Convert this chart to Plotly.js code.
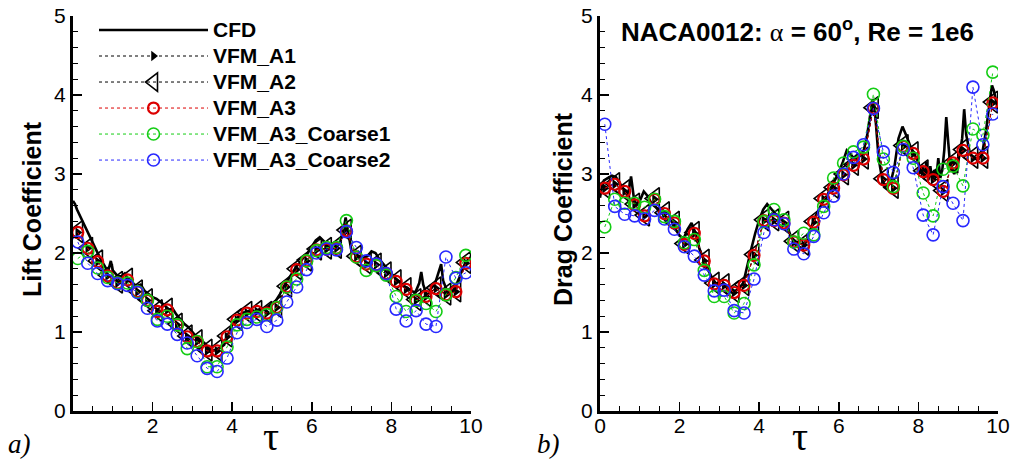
<!DOCTYPE html>
<html>
<head>
<meta charset="utf-8">
<script src="https://cdn.plot.ly/plotly-3.0.1.min.js"></script>
<style>html,body{margin:0;padding:0;background:#fff;}#chart{width:1013px;height:463px;}</style>
</head>
<body>
<div id="chart"></div>
<script>
// ---- data ----
const cfdLiftTau = [0.0,0.05,0.1,0.2,0.3,0.4,0.5,0.6,0.7,0.8,0.88,0.95,1.0,1.1,1.2,1.3,1.4,1.5,1.6,1.7,1.8,1.9,2.0,2.1,2.2,2.3,2.4,2.5,2.6,2.7,2.8,2.9,3.0,3.1,3.2,3.3,3.4,3.5,3.6,3.7,3.8,3.9,4.0,4.1,4.2,4.3,4.4,4.5,4.6,4.7,4.8,4.9,5.0,5.1,5.2,5.3,5.4,5.5,5.6,5.7,5.8,5.9,6.0,6.1,6.2,6.3,6.4,6.5,6.6,6.7,6.8,6.85,6.9,7.0,7.1,7.2,7.3,7.4,7.5,7.6,7.7,7.8,7.9,8.0,8.1,8.2,8.3,8.4,8.5,8.6,8.7,8.75,8.8,8.9,9.0,9.1,9.2,9.25,9.3,9.4,9.5,9.6,9.7,9.8,9.9,10.0];
const cfdLift = [2.66,2.62,2.55,2.44,2.33,2.22,2.13,2.02,1.92,1.82,1.76,1.90,1.78,1.72,1.70,1.74,1.66,1.62,1.58,1.60,1.52,1.48,1.44,1.42,1.38,1.34,1.28,1.30,1.22,1.16,1.10,1.06,1.00,0.94,0.90,0.86,0.80,0.76,0.78,0.80,0.84,0.96,1.10,1.16,1.22,1.25,1.24,1.28,1.24,1.30,1.28,1.32,1.35,1.40,1.48,1.58,1.66,1.74,1.82,1.88,1.95,2.00,2.08,2.16,2.20,2.15,2.08,2.05,2.08,2.12,2.30,2.45,2.30,2.02,1.98,1.96,1.94,1.96,2.02,2.00,1.92,1.86,1.80,1.74,1.68,1.64,1.58,1.56,1.52,1.50,1.62,1.76,1.60,1.45,1.55,1.62,1.78,1.86,1.65,1.52,1.50,1.56,1.68,1.82,1.90,1.95];

const cfdDragTau = [0.0,0.05,0.1,0.2,0.3,0.4,0.5,0.6,0.7,0.78,0.85,0.9,1.0,1.1,1.2,1.3,1.4,1.5,1.6,1.7,1.8,1.9,2.0,2.1,2.2,2.3,2.4,2.5,2.6,2.7,2.8,2.9,3.0,3.1,3.2,3.3,3.4,3.5,3.6,3.7,3.8,3.9,4.0,4.1,4.2,4.3,4.4,4.5,4.6,4.7,4.8,4.9,5.0,5.1,5.2,5.3,5.4,5.5,5.6,5.7,5.8,5.9,6.0,6.1,6.2,6.3,6.4,6.5,6.6,6.7,6.8,6.85,6.9,7.0,7.1,7.2,7.3,7.4,7.5,7.6,7.7,7.8,7.9,8.0,8.05,8.1,8.15,8.2,8.25,8.3,8.35,8.4,8.45,8.5,8.55,8.6,8.65,8.7,8.75,8.8,8.9,9.0,9.1,9.15,9.2,9.3,9.4,9.5,9.6,9.7,9.8,9.85,9.9,10.0];
const cfdDrag = [2.70,2.85,2.92,2.95,2.98,2.96,2.88,2.80,2.72,2.97,2.70,2.62,2.66,2.78,2.72,2.62,2.58,2.52,2.48,2.45,2.40,2.30,2.22,2.18,2.30,2.38,2.25,2.05,1.92,1.80,1.70,1.62,1.58,1.62,1.55,1.50,1.52,1.56,1.62,1.85,2.05,2.25,2.42,2.55,2.62,2.56,2.50,2.46,2.40,2.35,2.20,2.15,2.08,2.05,2.18,2.32,2.45,2.55,2.65,2.72,2.82,2.90,3.02,3.15,3.30,3.25,3.18,3.22,3.25,3.45,3.80,3.95,3.85,3.20,2.90,2.85,2.88,3.10,3.45,3.60,3.48,3.35,3.25,3.15,3.00,3.10,2.95,3.15,2.92,3.10,2.90,3.05,2.95,3.20,2.95,3.05,3.30,3.72,3.40,3.10,3.00,3.15,3.45,3.82,3.50,3.25,3.20,3.18,3.25,3.55,3.95,4.12,4.05,3.80];

const vfmTau = [0.12,0.37,0.62,0.87,1.12,1.37,1.62,1.87,2.12,2.37,2.62,2.87,3.12,3.37,3.62,3.87,4.12,4.37,4.62,4.87,5.12,5.37,5.62,5.87,6.12,6.37,6.62,6.87,7.12,7.37,7.62,7.87,8.12,8.37,8.62,8.87,9.12,9.37,9.62,9.87];

const liftA1 = [2.26,2.06,1.89,1.71,1.62,1.66,1.51,1.40,1.26,1.28,1.09,0.94,0.88,0.76,0.76,0.94,1.15,1.24,1.26,1.24,1.31,1.57,1.79,1.90,2.04,2.05,2.06,2.28,1.95,1.86,1.85,1.74,1.64,1.54,1.40,1.45,1.55,1.47,1.51,1.87];
const liftA2 = [2.27,2.06,1.90,1.72,1.63,1.67,1.52,1.41,1.27,1.29,1.10,0.95,0.89,0.77,0.77,0.95,1.16,1.25,1.26,1.25,1.32,1.58,1.80,1.91,2.05,2.06,2.07,2.29,1.96,1.87,1.86,1.75,1.65,1.55,1.41,1.46,1.56,1.48,1.52,1.88];
const liftA3 = [2.26,2.06,1.89,1.71,1.62,1.66,1.51,1.40,1.26,1.28,1.09,0.94,0.88,0.76,0.76,0.94,1.15,1.24,1.26,1.24,1.31,1.57,1.79,1.90,2.04,2.05,2.06,2.28,1.95,1.86,1.85,1.74,1.64,1.54,1.40,1.45,1.55,1.47,1.51,1.87];
const liftC1 = [1.93,2.02,1.81,1.69,1.62,1.62,1.51,1.40,1.16,1.20,1.09,0.79,0.88,0.56,0.56,0.81,1.09,1.16,1.19,1.22,1.31,1.57,1.67,1.90,2.03,2.07,2.07,2.41,1.95,1.78,1.84,1.72,1.45,1.26,1.40,1.36,1.26,1.47,1.69,1.97];
const liftC2 = [2.14,1.87,1.74,1.65,1.61,1.59,1.50,1.30,1.14,1.10,0.97,0.86,0.70,0.54,0.50,0.67,0.99,1.12,1.16,1.07,1.15,1.38,1.57,1.79,2.00,2.05,2.04,2.27,2.07,1.90,1.86,1.74,1.29,1.14,1.27,1.10,1.07,1.95,1.68,1.75];

const dragA1 = [2.82,2.87,2.78,2.61,2.47,2.68,2.50,2.38,2.11,2.25,1.90,1.61,1.59,1.50,1.59,1.97,2.41,2.41,2.38,2.14,2.10,2.39,2.68,2.82,2.99,3.11,3.19,3.83,2.93,2.82,3.35,3.26,3.03,2.93,2.78,3.14,3.30,3.20,3.20,3.90];
const dragA2 = [2.83,2.88,2.79,2.62,2.48,2.69,2.51,2.39,2.12,2.26,1.91,1.62,1.60,1.51,1.60,1.98,2.42,2.42,2.39,2.15,2.11,2.40,2.69,2.83,3.00,3.12,3.20,3.84,2.94,2.83,3.36,3.27,3.04,2.94,2.79,3.15,3.31,3.21,3.21,3.91];
const dragA3 = [2.82,2.87,2.78,2.61,2.47,2.68,2.50,2.38,2.11,2.25,1.90,1.61,1.59,1.50,1.59,1.97,2.41,2.41,2.38,2.14,2.10,2.39,2.68,2.82,2.99,3.11,3.19,3.83,2.93,2.82,3.35,3.26,3.03,2.93,2.78,3.14,3.30,3.20,3.20,3.90];
const dragC1 = [2.33,2.68,2.63,2.63,2.58,2.68,2.46,2.40,2.13,2.17,1.78,1.45,1.45,1.24,1.36,1.85,2.40,2.55,2.42,2.14,2.25,2.23,2.59,2.95,3.14,3.28,3.34,4.01,3.19,2.84,3.35,3.20,2.76,2.47,3.06,3.10,2.85,3.57,3.49,4.29];
const dragC2 = [3.63,2.59,2.49,2.47,2.43,2.54,2.43,2.30,2.08,1.96,1.72,1.52,1.53,1.27,1.24,1.67,2.26,2.42,2.37,2.05,1.99,2.21,2.51,2.72,3.00,3.21,3.37,3.83,3.28,3.02,3.31,3.08,2.48,2.23,2.84,2.63,2.41,4.10,3.37,3.76];

const seriesNames = ['CFD','VFM_A1','VFM_A2','VFM_A3','VFM_A3_Coarse1','VFM_A3_Coarse2'];
const xTicksLeft = [2,4,6,8,10];
const xTicksRight = [0,2,4,6,8,10];
const yTicks = [0,1,2,3,4,5];

// ---- styles ----
const RED = 'rgb(220,0,0)', GREEN = 'rgb(20,205,20)', BLUE = 'rgb(40,40,255)';
const LEG = n => '<span style="font-size:21px">' + n + '</span>';
function makeTraces(xa, ya, cfdT, cfdV, a1, a2, a3, c1, c2, show) {
  const common = {xaxis: xa, yaxis: ya, showlegend: show, type: 'scatter'};
  return [
    Object.assign({x: cfdT, y: cfdV, mode: 'lines', name: LEG(seriesNames[0]), legendrank: 1,
      line: {color: 'black', width: 2.6}}, common),
    Object.assign({x: vfmTau, y: a2, mode: 'lines+markers', name: LEG(seriesNames[2]), legendrank: 3,
      line: {color: 'black', width: 1, dash: 'dot'},
      marker: {symbol: 'triangle-left-open', size: 19, color: 'black', line: {width: 1.6, color: 'black'}}}, common),
    Object.assign({x: vfmTau, y: a1, mode: 'lines+markers', name: LEG(seriesNames[1]), legendrank: 2,
      line: {color: 'black', width: 1, dash: 'dot'},
      marker: {symbol: 'triangle-right', size: 9, color: 'black'}}, common),
    Object.assign({x: vfmTau, y: a3, mode: 'lines+markers', name: LEG(seriesNames[3]), legendrank: 4,
      line: {color: RED, width: 1, dash: 'dot'},
      marker: {symbol: 'circle-open', size: 11, color: RED, line: {width: 2.2, color: RED}}}, common),
    Object.assign({x: vfmTau, y: c1, mode: 'lines+markers', name: LEG(seriesNames[4]), legendrank: 5,
      line: {color: GREEN, width: 1, dash: 'dot'},
      marker: {symbol: 'circle-open', size: 12, color: GREEN, line: {width: 1.6, color: GREEN}}}, common),
    Object.assign({x: vfmTau, y: c2, mode: 'lines+markers', name: LEG(seriesNames[5]), legendrank: 6,
      line: {color: BLUE, width: 1, dash: 'dot'},
      marker: {symbol: 'circle-open', size: 12, color: BLUE, line: {width: 1.6, color: BLUE}}}, common)
  ];
}
const left = makeTraces('x', 'y', cfdLiftTau, cfdLift, liftA1, liftA2, liftA3, liftC1, liftC2, true);
const right = makeTraces('x2', 'y2', cfdDragTau, cfdDrag, dragA1, dragA2, dragA3, dragC1, dragC2, false);

const W = 1013, H = 463;
const FONT = 'Liberation Sans, Arial, Helvetica, sans-serif';
const SERIF = 'Liberation Serif, Times New Roman, serif';
const yDom = [(H - 411) / H, (H - 16) / H];
function xAx(domain, tickvals) {
  return {
    domain: domain, range: [0, 10], showline: true, linewidth: 3, linecolor: 'black',
    ticks: 'inside', ticklen: 9, tickwidth: 1.5, tickcolor: 'black', tickvals: tickvals,
    ticktext: tickvals.map(String), ticklabeloverflow: 'allow', ticklabelstandoff: -6,
    minor: {dtick: 0.5, ticks: 'inside', ticklen: 5, tickwidth: 1, tickcolor: 'black', showgrid: false},
    showgrid: false, zeroline: false, tickfont: {family: FONT, size: 21, color: 'black'}, fixedrange: true
  };
}
function yAx(anchor) {
  return {
    domain: yDom, range: [0, 5], anchor: anchor, showline: true, linewidth: 3, linecolor: 'black',
    ticks: 'inside', ticklen: 9, tickwidth: 1.5, tickcolor: 'black', tickvals: yTicks,
    ticktext: yTicks.map(String), ticklabeloverflow: 'allow',
    minor: {dtick: 0.2, ticks: 'inside', ticklen: 5, tickwidth: 1, tickcolor: 'black', showgrid: false},
    showgrid: false, zeroline: false, tickfont: {family: FONT, size: 21, color: 'black'}, fixedrange: true
  };
}
const layout = {
  width: W, height: H, margin: {l: 0, r: 0, t: 0, b: 0, pad: 0},
  paper_bgcolor: 'white', plot_bgcolor: 'white',
  xaxis: Object.assign(xAx([73 / W, 471 / W], xTicksLeft), {anchor: 'y'}),
  yaxis: yAx('x'),
  xaxis2: Object.assign(xAx([600 / W, 998 / W], xTicksRight), {anchor: 'y2'}),
  yaxis2: yAx('x2'),
  showlegend: true,
  legend: {x: 94 / W, y: 1 - 12 / H, xanchor: 'left', yanchor: 'top', bgcolor: 'rgba(0,0,0,0)',
    font: {family: FONT, size: 17.7, color: 'black', weight: 'bold'}, tracegroupgap: 0, itemwidth: 109,
    traceorder: 'normal'},
  annotations: [
    {text: '<b>Lift Coefficient</b>', textangle: -90, x: 32 / W, y: 1 - 209 / H, xref: 'paper', yref: 'paper',
      showarrow: false, font: {family: FONT, size: 25, color: 'black'}, xanchor: 'center', yanchor: 'middle'},
    {text: '<b>Drag Coefficient</b>', textangle: -90, x: 563 / W, y: 1 - 209 / H, xref: 'paper', yref: 'paper',
      showarrow: false, font: {family: FONT, size: 25, color: 'black'}, xanchor: 'center', yanchor: 'middle'},
    {text: 'τ', x: 271 / W, y: 1 - 436 / H, xref: 'paper', yref: 'paper', showarrow: false,
      font: {family: SERIF, size: 40, color: 'black'}, xanchor: 'center', yanchor: 'middle'},
    {text: 'τ', x: 800 / W, y: 1 - 436 / H, xref: 'paper', yref: 'paper', showarrow: false,
      font: {family: SERIF, size: 40, color: 'black'}, xanchor: 'center', yanchor: 'middle'},
    {text: '<i>a)</i>', x: 19 / W, y: 1 - 444 / H, xref: 'paper', yref: 'paper', showarrow: false,
      font: {family: SERIF, size: 27, color: 'black'}, xanchor: 'center', yanchor: 'middle'},
    {text: '<i>b)</i>', x: 548 / W, y: 1 - 444 / H, xref: 'paper', yref: 'paper', showarrow: false,
      font: {family: SERIF, size: 27, color: 'black'}, xanchor: 'center', yanchor: 'middle'},
    {text: '<b>NACA0012: </b><span style="font-family:Liberation Serif, serif;">α</span><b> = 60<sup>o</sup>, Re = 1e6</b>',
      x: 619 / W, y: 1 - 30 / H, xref: 'paper', yref: 'paper', showarrow: false,
      font: {family: FONT, size: 26, color: 'black'}, xanchor: 'left', yanchor: 'middle'}
  ]
};
Plotly.newPlot('chart', left.concat(right), layout, {displayModeBar: false, staticPlot: true});
</script>
</body>
</html>
